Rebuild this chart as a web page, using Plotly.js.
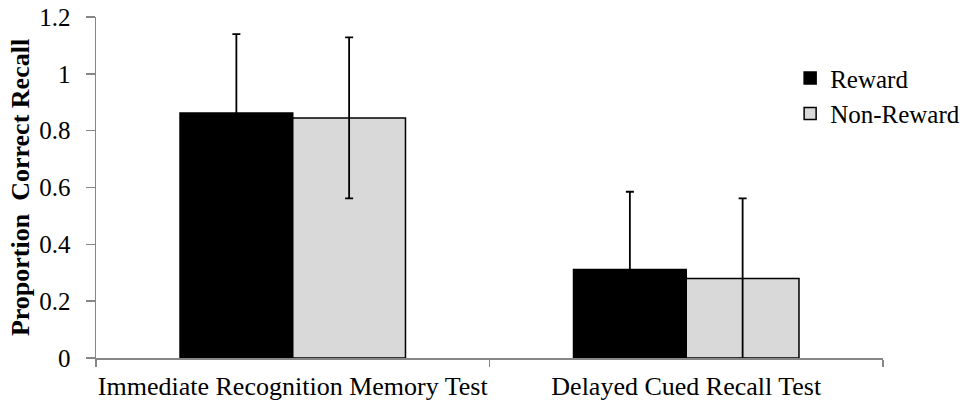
<!DOCTYPE html>
<html>
<head>
<meta charset="utf-8">
<script src="https://cdn.plot.ly/plotly-3.0.1.min.js"></script>
<style>
  html, body { margin: 0; padding: 0; background: #fff; }
  #chart { width: 971px; height: 404px; }
</style>
</head>
<body>
<div id="chart"></div>
<script>
var categories = ["Immediate Recognition Memory Test", "Delayed Cued Recall Test"];
var seriesNames = ["Reward", "Non-Reward"];
var rewardValues = [0.862, 0.311];
var rewardErrors = [0.278, 0.274];
var nonRewardValues = [0.845, 0.280];
var nonRewardErrors = [0.283, 0.282];
var yTickValues = [0, 0.2, 0.4, 0.6, 0.8, 1, 1.2];
var yTickLabels = ["0", "0.2", "0.4", "0.6", "0.8", "1", "1.2"];

var FONT = 'Liberation Serif, Times New Roman, Times, serif';

var traces = [
  {
    type: 'bar',
    name: seriesNames[0],
    x: categories,
    y: rewardValues,
    marker: { color: '#000000', line: { color: '#000000', width: 1.5 } },
    error_y: { type: 'data', array: rewardErrors, visible: true, color: '#000000', thickness: 1.8, width: 4 }
  },
  {
    type: 'bar',
    name: seriesNames[1],
    x: categories,
    y: nonRewardValues,
    marker: { color: '#d9d9d9', line: { color: '#000000', width: 1.5 } },
    error_y: { type: 'data', array: nonRewardErrors, visible: true, color: '#000000', thickness: 1.8, width: 4 }
  }
];

var layout = {
  width: 971,
  height: 404,
  margin: { l: 96, r: 88, t: 17, b: 46, autoexpand: false },
  paper_bgcolor: '#ffffff',
  plot_bgcolor: '#ffffff',
  font: { family: FONT, color: '#000000', size: 24 },
  barmode: 'group',
  bargap: 0.427,
  bargroupgap: 0,
  showlegend: true,
  legend: {
    x: 0.882, xanchor: 'left',
    y: 0.888, yanchor: 'top',
    font: { family: FONT, size: 25, color: '#000000' },
    bgcolor: 'rgba(0,0,0,0)',
    borderwidth: 0,
    itemwidth: 30,
    tracegroupgap: 0
  },
  xaxis: {
    type: 'category',
    range: [-0.5, 1.5],
    showline: true,
    linecolor: '#868686',
    linewidth: 1.5,
    ticks: 'outside',
    tickson: 'boundaries',
    ticklen: 7,
    tickwidth: 1.5,
    tickcolor: '#868686',
    tickangle: 0,
    ticklabelstandoff: 4,
    automargin: false,
    showgrid: false,
    zeroline: false,
    tickfont: { family: FONT, size: 26, color: '#000000' },
    fixedrange: true
  },
  yaxis: {
    range: [0, 1.2],
    tickvals: yTickValues,
    ticktext: yTickLabels,
    showline: true,
    linecolor: '#868686',
    linewidth: 1.5,
    ticks: 'outside',
    ticklen: 9,
    tickwidth: 1.5,
    tickcolor: '#868686',
    ticklabelstandoff: 10,
    automargin: false,
    showgrid: false,
    zeroline: false,
    tickfont: { family: FONT, size: 25, color: '#000000' },
    title: {
      text: 'Proportion  Correct Recall',
      font: { family: FONT, size: 26, color: '#000000', weight: 'bold' },
      standoff: 2
    },
    fixedrange: true
  }
};

Plotly.newPlot('chart', traces, layout, { displayModeBar: false, staticPlot: true });
</script>
</body>
</html>
